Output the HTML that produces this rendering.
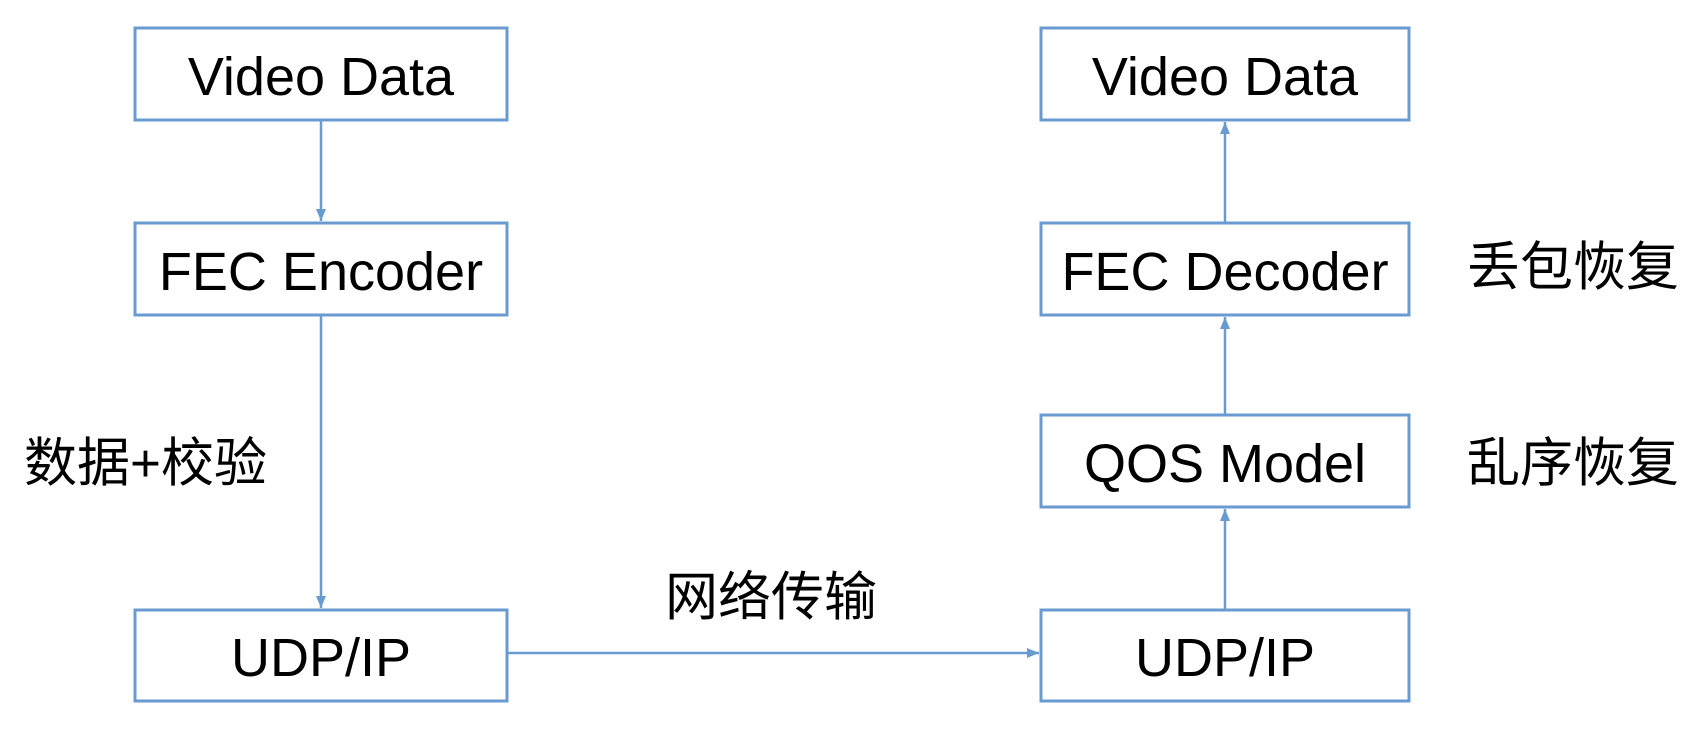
<!DOCTYPE html>
<html><head><meta charset="utf-8"><style>
body{margin:0;background:#fff;}
svg text{font-family:"Liberation Sans","Noto Sans CJK SC",sans-serif;fill:#000;}
</style></head><body>
<svg width="1704" height="732" viewBox="0 0 1704 732" xmlns="http://www.w3.org/2000/svg">
<defs><marker id="a" markerWidth="14" markerHeight="14" refX="12" refY="6" orient="auto" markerUnits="userSpaceOnUse"><path d="M0,1 L12,6 L0,11 Z" fill="#6a9bd0"/></marker></defs>
<g fill="none" stroke="#6a9bd0" stroke-width="3">
<rect x="135" y="28" width="372" height="92"/>
<rect x="135" y="223" width="372" height="92"/>
<rect x="135" y="610" width="372" height="91"/>
<rect x="1041" y="28" width="368" height="92"/>
<rect x="1041" y="223" width="368" height="92"/>
<rect x="1041" y="415" width="368" height="92"/>
<rect x="1041" y="610" width="368" height="91"/>
</g>
<g stroke="#6a9bd0" stroke-width="2.5" marker-end="url(#a)">
<line x1="321" y1="120" x2="321" y2="221"/>
<line x1="321" y1="315" x2="321" y2="608"/>
<line x1="507" y1="653" x2="1039" y2="653"/>
<line x1="1225" y1="610" x2="1225" y2="509"/>
<line x1="1225" y1="415" x2="1225" y2="317"/>
<line x1="1225" y1="223" x2="1225" y2="122"/>
</g>
<g font-size="54" text-anchor="middle">
<text x="321" y="95">Video Data</text>
<text x="321" y="290">FEC Encoder</text>
<text x="321" y="676">UDP/IP</text>
<text x="1225" y="95">Video Data</text>
<text x="1225" y="290">FEC Decoder</text>
<text x="1225" y="482">QOS Model</text>
<text x="1225" y="676">UDP/IP</text>
</g>
<g font-size="53">
<text x="24" y="481">数据+校验</text>
<text x="665" y="615">网络传输</text>
<text x="1467" y="285">丢包恢复</text>
<text x="1467" y="481">乱序恢复</text>
</g>
</svg>
</body></html>
